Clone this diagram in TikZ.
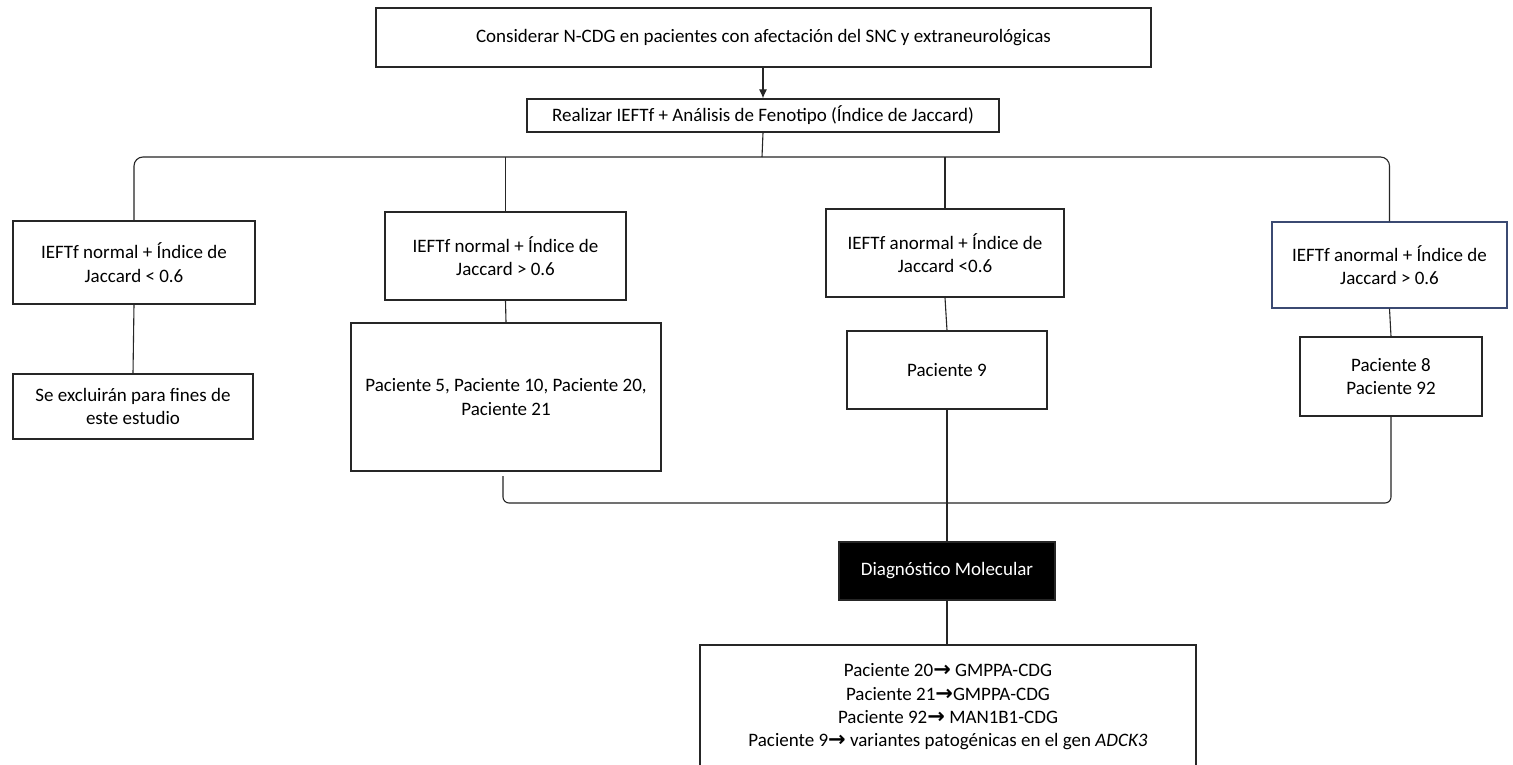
\documentclass[tikz,border=0pt]{standalone}
\usepackage{fontspec}
\setmainfont{Carlito}
\newfontfamily\arrowfont{DejaVu Sans}
\usetikzlibrary{arrows.meta}
\definecolor{ink}{HTML}{262626}
\definecolor{navyedge}{HTML}{3B4A72}
% heavy right arrow used in the result list
\newcommand{\resarrow}{{\arrowfont\bfseries\fontsize{21}{21}\selectfont →}}
\begin{document}
\begin{tikzpicture}[x=1pt,y=-1pt,
  box/.style={draw=ink, line width=1.2pt, align=center, inner sep=0pt,
    font=\fontsize{19}{23.3}\selectfont, text=black},
  link/.style={draw=ink, line width=1.1pt},
  darkbox/.style={box, fill=black, text=white}]
  \clip (0,0) rectangle (1513,765);
  \fill[white] (0,0) rectangle (1513,765);

  % header
  \node[box, minimum width=775pt, minimum height=59pt] (top) at (763.5,37.5)
    {Considerar N-CDG en pacientes con afectación del SNC y extraneurológicas};
  \node[box, minimum width=472pt, minimum height=33pt] (eval) at (763,115.5)
    {Realizar IEFTf + Análisis de Fenotipo (Índice de Jaccard)};

  % four branches
  \node[box, minimum width=242pt, minimum height=83pt] (b1) at (134,262.5)
    {IEFTf normal + Índice de\\Jaccard < 0.6};
  \node[box, minimum width=240pt, minimum height=65pt] (b1b) at (133,406.5)
    {Se excluirán para fines de\\este estudio};

  \node[box, minimum width=241pt, minimum height=88pt] (b2) at (505.5,256)
    {IEFTf normal + Índice de\\Jaccard > 0.6};
  \node[box, minimum width=310pt, minimum height=148pt] (b2b) at (506,397)
    {Paciente 5, Paciente 10, Paciente 20,\\Paciente 21};

  \node[box, minimum width=238pt, minimum height=88pt] (b3) at (945,253)
    {IEFTf anormal + Índice de\\Jaccard <0.6};
  \node[box, minimum width=200pt, minimum height=78pt] (b3b) at (947,370)
    {Paciente 9};

  \node[box, draw=navyedge, minimum width=235pt, minimum height=86pt] (b4) at (1389.5,265)
    {IEFTf anormal + Índice de\\Jaccard > 0.6};
  \node[box, minimum width=182pt, minimum height=79pt] (b4b) at (1391,376.5)
    {Paciente 8\\Paciente 92};

  % molecular diagnosis
  \node[darkbox, minimum width=216pt, minimum height=58pt] (diag) at (947,571)
    {Diagnóstico Molecular};
  \node[box, minimum width=496pt, minimum height=124pt] (res) at (948,707)
    {Paciente 20\resarrow{} GMPPA-CDG\\
     Paciente 21\resarrow{}GMPPA-CDG\\
     Paciente 92\resarrow{} MAN1B1-CDG\\
     Paciente 9\resarrow{} variantes patogénicas en el gen \textit{ADCK3}};

  % connectors
  \coordinate (hub) at (762,157);
  \coordinate (stub) at (503,476);
  \coordinate (join) at (947,503);

  \draw[link, -{Latex[length=9pt,width=8pt]}] (top.south -| eval.north) -- (eval.north);
  \draw[link] (eval.south) -- (hub);
  \draw[link, rounded corners=9pt] (b1.north) |- (hub) -| (b4.north);
  \draw[link] (b2.north) -- (b2.north |- hub);
  \draw[link] (b3.north) -- (b3.north |- hub);

  \draw[link] (b1.south) -- (b1b.north);
  \draw[link] (b2.south) -- (b2b.north);
  \draw[link] (b3.south) -- (b3b.north);
  \draw[link] (b4.south) -- (b4b.north);

  \draw[link, rounded corners=6pt] (stub) |- (join) -| (b4b.south);
  \draw[link] (b3b.south) -- (diag.north);
  \draw[link] (diag.south) -- (res.north -| diag.south);
\end{tikzpicture}
\end{document}
